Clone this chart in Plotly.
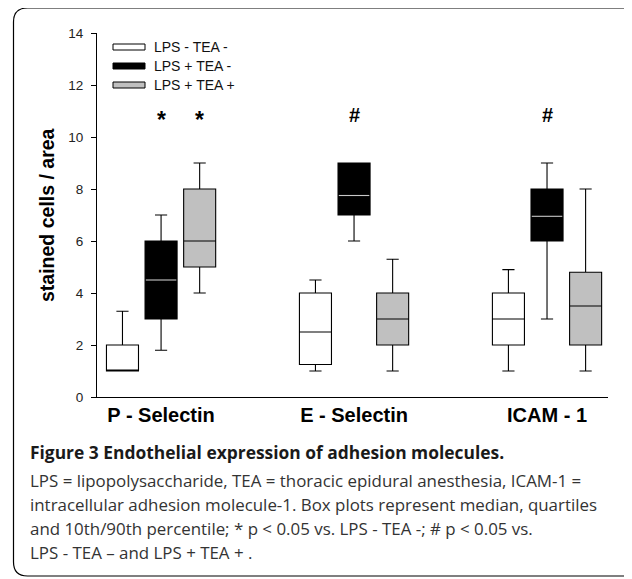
import plotly.graph_objects as go

# ---- data ----
categories = ["P - Selectin", "E - Selectin", "ICAM - 1"]
conditions = ["LPS - TEA -", "LPS + TEA -", "LPS + TEA +"]

q1_white = [1.0, 1.25, 2.0]
median_white = [1.0, 2.5, 3.0]
q3_white = [2.0, 4.0, 4.0]
low_white = [1.0, 1.0, 1.0]
high_white = [3.3, 4.5, 4.9]

q1_black = [3.0, 7.0, 6.0]
median_black = [4.5, 7.75, 6.95]
q3_black = [6.0, 9.0, 8.0]
low_black = [1.8, 6.0, 3.0]
high_black = [7.0, 9.0, 9.0]

q1_gray = [5.0, 2.0, 2.0]
median_gray = [6.0, 3.0, 3.5]
q3_gray = [8.0, 4.0, 4.8]
low_gray = [4.0, 1.0, 1.0]
high_gray = [9.0, 5.3, 8.0]

sig_black = ["*", "#", "#"]
sig_gray = ["*", "", ""]
sig_y = 10.85

y_ticks = [0, 2, 4, 6, 8, 10, 12, 14]

caption_title = "Figure 3 Endothelial expression of adhesion molecules."
caption_lines = [
    "LPS = lipopolysaccharide, TEA = thoracic epidural anesthesia, ICAM-1 =",
    "intracellular adhesion molecule-1. Box plots represent median, quartiles",
    "and 10th/90th percentile; * p &lt; 0.05 vs. LPS - TEA -; # p &lt; 0.05 vs.",
    "LPS - TEA \u2013 and LPS + TEA + .",
]

# ---- layout helpers (page pixel coordinates; the page body has an 8px margin) ----
OFF = 8
PAGE_W, PAGE_H = 632, 579
W, H = PAGE_W - OFF, PAGE_H - OFF
AX_L, AX_R, AX_T, AX_B = 97, 608, 33, 397  # plot area on the page
ML, MR, MT, MB = AX_L - OFF, PAGE_W - AX_R, AX_T - OFF, PAGE_H - AX_B
PW, PH = AX_R - AX_L, AX_B - AX_T


def px(x):
    return (x - AX_L) / PW


def py(y):
    return (AX_B - y) / PH


offsets = [-0.2, 0.0, 0.2]
box_w = 0.166
fills = ["#ffffff", "#000000", "#c0c0c0"]
stats = [
    (q1_white, median_white, q3_white, low_white, high_white),
    (q1_black, median_black, q3_black, low_black, high_black),
    (q1_gray, median_gray, q3_gray, low_gray, high_gray),
]

fig = go.Figure()
for k, (name, fill, st) in enumerate(zip(conditions, fills, stats)):
    q1, med, q3, lo, hi = st
    xs = [g + offsets[k] for g in range(len(categories))]
    fig.add_trace(go.Box(
        name=name, x=xs, q1=q1, median=med, q3=q3,
        lowerfence=lo, upperfence=hi,
        width=box_w, whiskerwidth=0.38,
        fillcolor=fill, line=dict(color="#000000", width=1.1),
        boxpoints=False, showlegend=False, hoverinfo="skip",
    ))

# light median line inside black boxes
mx, my = [], []
for g, m in enumerate(median_black):
    c = g + offsets[1]
    mx += [c - box_w / 2 + 0.004, c + box_w / 2 - 0.004, None]
    my += [m, m, None]
fig.add_trace(go.Scatter(x=mx, y=my, mode="lines",
                         line=dict(color="#c8c8c8", width=1.1),
                         showlegend=False, hoverinfo="skip"))

annotations = []
for g in range(len(categories)):
    for k, lab in ((1, sig_black[g]), (2, sig_gray[g])):
        if lab:
            star = lab == "*"
            annotations.append(dict(
                x=g + offsets[k], y=sig_y, xref="x", yref="y", text="<b>%s</b>" % lab,
                showarrow=False,
                font=dict(family="Liberation Sans", size=23 if star else 20, color="#000"),
                xanchor="center", yanchor="middle", yshift=-5 if star else 0))

# custom legend (elongated rectangles)
shapes = []
leg_rows = [47, 66, 85]
for k, (name, fill) in enumerate(zip(conditions, fills)):
    yc = leg_rows[k]
    shapes.append(dict(type="rect", xref="paper", yref="paper",
                       x0=px(113), x1=px(145), y0=py(yc + 3), y1=py(yc - 3),
                       fillcolor=fill, line=dict(color="#000", width=1)))
    annotations.append(dict(x=px(152), y=py(yc), xref="paper", yref="paper",
                            text=name, showarrow=False, xanchor="left", yanchor="middle",
                            font=dict(family="Liberation Sans", size=14, color="#111")))

# y-axis title
annotations.append(dict(x=px(47), y=0.5, xref="paper", yref="paper",
                        text="<b>stained cells / area</b>", textangle=-90, showarrow=False,
                        xanchor="center", yanchor="middle",
                        font=dict(family="Liberation Sans", size=19.5, color="#000")))

# caption
annotations.append(dict(x=px(28), y=py(452), xref="paper", yref="paper",
                        text="<b>%s</b>" % caption_title, showarrow=False,
                        xanchor="left", yanchor="middle",
                        font=dict(family="Open Sans", size=17.4, color="#1a1a1a")))
for i, line in enumerate(caption_lines):
    annotations.append(dict(x=px(28), y=py(480 + i * 24), xref="paper", yref="paper",
                            text=line, showarrow=False, xanchor="left", yanchor="middle",
                            font=dict(family="Open Sans", size=16.9, color="#333")))

# rounded frame
r = 14
L, T, B, R = 13.5, 8, 576, 642
path = (f"M {px(L)},{py(T + r)} Q {px(L)},{py(T)} {px(L + r)},{py(T)} "
        f"L {px(R - r)},{py(T)} Q {px(R)},{py(T)} {px(R)},{py(T + r)} "
        f"M {px(L)},{py(T + r)} L {px(L)},{py(B - r)} "
        f"Q {px(L)},{py(B)} {px(L + r)},{py(B)} L {px(R)},{py(B)}")
shapes.append(dict(type="path", xref="paper", yref="paper", path=path,
                   line=dict(color="#000", width=1.2)))

fig.update_layout(
    width=W, height=H,
    margin=dict(l=ML, r=MR, t=MT, b=MB),
    paper_bgcolor="white", plot_bgcolor="white",
    shapes=shapes, annotations=annotations,
    showlegend=False,
    xaxis=dict(range=[-0.332, 2.316], tickvals=list(range(len(categories))),
               ticktext=["<b>%s</b>" % c for c in categories],
               tickfont=dict(family="Liberation Sans", size=20, color="#000"),
               showline=True, linecolor="#000", linewidth=1, ticks="",
               showgrid=False, zeroline=False),
    yaxis=dict(range=[0, 14], tickvals=y_ticks,
               tickfont=dict(family="Liberation Sans", size=13.5, color="#222"),
               ticklabelstandoff=5,
               showline=True, linecolor="#000", linewidth=1, ticks="outside",
               ticklen=5, tickcolor="#000", showgrid=False, zeroline=False),
)

fig.write_html("out.html")
